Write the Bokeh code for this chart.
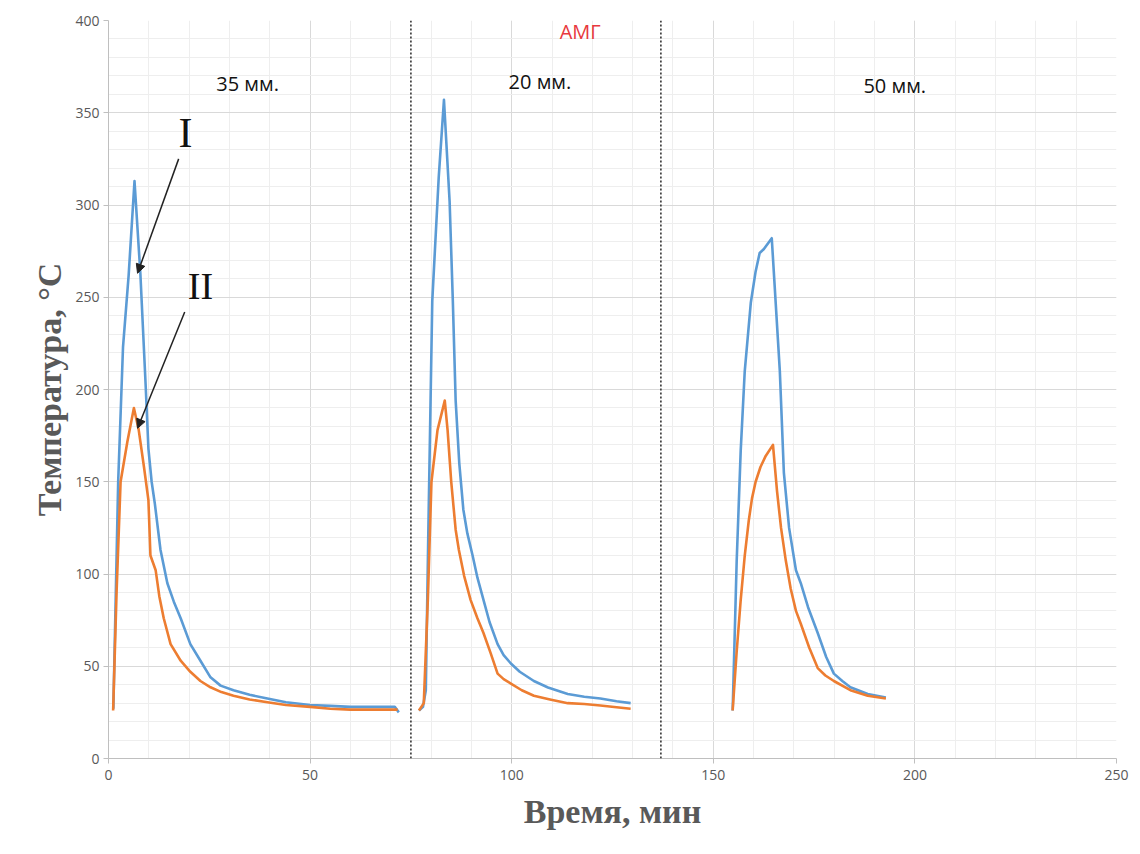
from bokeh.plotting import figure
from bokeh.models import SingleIntervalTicker, Span, Label, Arrow, NormalHead, Range1d
from bokeh.embed import file_html
from bokeh.resources import INLINE

# Curve I (blue), three runs
i1_x = [1.2, 2.4, 3.6, 5.0, 6.45, 7.9, 9.2, 9.9, 10.7, 11.5, 12.9, 14.6, 16.2, 17.9, 20.3, 22.8, 25.3, 27.8, 31, 35, 39.4, 44, 50, 55, 60, 66, 71, 72]
i1_y = [27, 150, 223, 262, 313, 263, 203, 168, 150, 138, 113, 95, 85, 76, 62, 53, 44, 39.5, 37, 34.5, 32.5, 30.5, 29, 28.5, 28, 28, 28, 25]
i2_x = [77, 78, 78.7, 79.3, 80.3, 81.9, 83.2, 84.6, 85.4, 86.1, 87, 88, 89, 90.3, 91.5, 93, 94.5, 96.5, 98, 99.8, 102, 105.5, 109, 113.9, 118, 122, 126, 129.5]
i2_y = [26, 28, 37, 120, 248, 315, 357, 302, 248, 194, 160, 135, 122, 110, 98, 86, 74, 62, 56, 51.5, 47, 42, 38.5, 35, 33.5, 32.5, 31, 30]
i3_x = [154.8, 155.8, 156.8, 157.8, 159.3, 160.5, 161.5, 162.5, 164.5, 165.0, 166.5, 167.5, 168.8, 170.5, 171.7, 173.5, 175.9, 178, 179.9, 182, 184, 188.3, 192.8]
i3_y = [26, 107, 167, 210, 247, 264, 274, 276, 282, 264, 210, 155, 125, 102, 95, 82, 68, 55, 46, 42, 38.6, 35, 33]

# Curve II (orange), three runs
ii1_x = [1.15, 2.0, 3.0, 4.7, 6.3, 7.5, 8.8, 9.9, 10.4, 11.7, 12.6, 13.7, 15.4, 17.9, 20.3, 22.8, 25.3, 28, 31, 35, 39.4, 44, 50, 55, 60, 66, 71.7]
ii1_y = [26, 90, 150, 172, 190, 178, 158, 140, 110, 102, 88, 76, 62, 53, 47, 42, 38.6, 36, 34, 32, 30.5, 29, 28, 27, 26.5, 26.5, 26.5]
ii2_x = [77, 78.2, 79.2, 80.1, 81.6, 83.4, 84.1, 85, 86.1, 86.9, 88.2, 89.8, 91.5, 93, 94.8, 96.5, 98, 99.8, 102.5, 105.5, 109.5, 113.9, 118, 122, 126, 129.5]
ii2_y = [26, 30, 86, 150, 178, 194, 178, 150, 124, 113, 99, 86, 76, 68, 57, 46, 43, 40.6, 37, 34, 32, 30, 29.5, 28.7, 27.8, 27]
ii3_x = [154.8, 155.8, 156.8, 157.8, 158.8, 159.6, 160.5, 161.7, 163, 164.8, 165.8, 166.8, 168, 169.2, 170.5, 171.7, 173.8, 175.9, 177.8, 179.9, 184, 188.3, 192.8]
ii3_y = [26, 58, 86, 110, 129, 141, 150, 158, 164, 170, 145, 125, 107, 92, 80, 73, 60, 49, 45, 42, 37, 34, 32.5]

dividers = [75, 137]
section_labels = ["35 мм.", "20 мм.", "50 мм."]
section_x = [34.5, 107, 195]
section_y = [366, 367, 365]

p = figure(frame_width=1008, frame_height=738, output_backend="svg", toolbar_location=None,
           x_range=Range1d(0, 250), y_range=Range1d(0, 400),
           min_border_left=108, min_border_top=20, min_border_right=16, min_border_bottom=80)
p.outline_line_color = None
p.background_fill_color = "white"

for ax in (p.xaxis[0], p.yaxis[0]):
    ax.ticker = SingleIntervalTicker(interval=50, num_minor_ticks=5)
    ax.axis_line_color = "#bfbfbf"
    ax.major_tick_line_color = "#bfbfbf"
    ax.major_tick_out = 5
    ax.major_tick_in = 0
    ax.minor_tick_out = 0
    ax.minor_tick_in = 0
    ax.major_label_text_color = "#595959"
    ax.major_label_text_font = "Open Sans"
    ax.major_label_text_font_size = "14px"
    ax.axis_label_text_font = "Liberation Serif"
    ax.axis_label_text_font_style = "bold"
    ax.axis_label_text_color = "#595959"

p.yaxis.axis_label = "Температура, °C"
p.yaxis.axis_label_text_font_size = "34px"
p.yaxis.axis_label_standoff = 4
p.yaxis.major_label_standoff = 4
p.xaxis.axis_label = "Время, мин"
p.xaxis.axis_label_text_font_size = "34px"
p.xaxis.axis_label_standoff = 10
p.xaxis.major_label_standoff = 6

for g in (p.xgrid[0], p.ygrid[0]):
    g.grid_line_color = "#d9d9d9"
    g.minor_grid_line_color = "#eeeeee"

blue = "#5b9bd5"
orange = "#ed7d31"
for xs, ys in ((i1_x, i1_y), (i2_x, i2_y), (i3_x, i3_y)):
    p.line(xs, ys, line_color=blue, line_width=2.6, line_join="round")
for xs, ys in ((ii1_x, ii1_y), (ii2_x, ii2_y), (ii3_x, ii3_y)):
    p.line(xs, ys, line_color=orange, line_width=2.6, line_join="round")

for d in dividers:
    p.add_layout(Span(location=d, dimension="height", line_color="#333333",
                      line_dash="2 2", line_width=1.6))

for t, x, y in zip(section_labels, section_x, section_y):
    p.add_layout(Label(x=x, y=y, text=t, text_align="center", text_baseline="middle",
                       text_font="Open Sans", text_font_size="20px", text_color="#111111"))

p.add_layout(Label(x=117, y=394, text="АМГ", text_align="center", text_baseline="middle",
                   text_font="Open Sans", text_font_size="20px", text_color="#e8383d"))

p.add_layout(Label(x=19.1, y=339, text="I", text_align="center", text_baseline="middle",
                   text_font="Liberation Serif", text_font_size="42px", text_color="#111111"))
p.add_layout(Label(x=22.8, y=256, text="II", text_align="center", text_baseline="middle",
                   text_font="Liberation Serif", text_font_size="38px", text_color="#111111"))

p.add_layout(Arrow(x_start=17.4, y_start=325, x_end=7.2, y_end=263,
                   line_color="#222222", line_width=1.5,
                   end=NormalHead(size=9, fill_color="#222222", line_color="#222222")))
p.add_layout(Arrow(x_start=18.9, y_start=242, x_end=7.2, y_end=179,
                   line_color="#222222", line_width=1.5,
                   end=NormalHead(size=9, fill_color="#222222", line_color="#222222")))

open("out.html", "w").write(file_html(p, INLINE))
